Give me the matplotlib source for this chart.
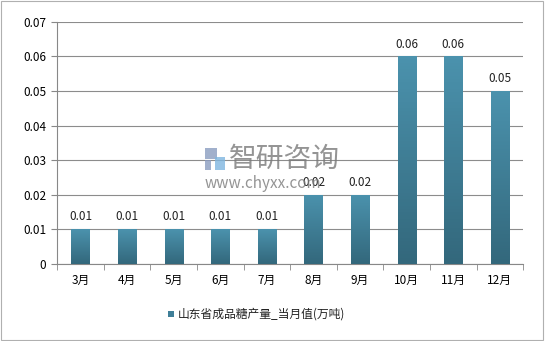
import matplotlib
matplotlib.use("Agg")
import matplotlib.pyplot as plt
import numpy as np
from matplotlib.patches import Rectangle

plt.rcParams['font.family'] = ['Noto Sans CJK SC', 'DejaVu Sans']

months = ['3月', '4月', '5月', '6月', '7月', '8月', '9月', '10月', '11月', '12月']
values = [0.01, 0.01, 0.01, 0.01, 0.01, 0.02, 0.02, 0.06, 0.06, 0.05]
labels = ['0.01', '0.01', '0.01', '0.01', '0.01', '0.02', '0.02', '0.06', '0.06', '0.05']
yticks = [0, 0.01, 0.02, 0.03, 0.04, 0.05, 0.06, 0.07]
ytick_labels = ['0', '0.01', '0.02', '0.03', '0.04', '0.05', '0.06', '0.07']
series_name = '山东省成品糖产量_当月值(万吨)'

fig = plt.figure(figsize=(5.45, 3.41), dpi=100)
ax = fig.add_axes([0.105, 0.226, 0.855, 0.71])

x = np.arange(len(months))
bar_w = 0.39
bars = ax.bar(x, values, width=bar_w, color='#3f7f98', zorder=2)

# vertical gradient in each bar
grad = np.linspace(0, 1, 64).reshape(-1, 1)
cmap = matplotlib.colors.LinearSegmentedColormap.from_list('g', ['#33687c', '#4b92ad'])
for b in bars:
    x0, y0 = b.get_x(), b.get_y()
    w, h = b.get_width(), b.get_height()
    im = ax.imshow(grad, extent=[x0, x0 + w, y0, y0 + h], origin='lower',
                   aspect='auto', cmap=cmap, zorder=3)
    im.set_clip_path(b)

for xi, v, lab in zip(x, values, labels):
    ax.text(xi, v + 0.0017, lab, ha='center', va='bottom', fontsize=8.5,
            color='#222222', zorder=4)

ax.set_xlim(-0.5, len(months) - 0.5)
ax.set_ylim(0, 0.07)
ax.set_yticks(yticks)
ax.set_yticklabels(ytick_labels, fontsize=8.5)
ax.set_xticks(x)
ax.set_xticklabels(months, fontsize=8.5)
ax.set_xticks(np.arange(-0.5, len(months), 1), minor=True)
ax.tick_params(axis='x', which='major', length=0, pad=7)
ax.tick_params(axis='x', which='minor', length=4, color='#888888')
ax.tick_params(axis='y', length=4, color='#888888', pad=4)
ax.yaxis.grid(True, color='#8c8c8c', linewidth=0.8, zorder=0)
ax.set_axisbelow(True)
for s in ['top', 'right']:
    ax.spines[s].set_visible(False)
ax.spines['left'].set_color('#888888')
ax.spines['bottom'].set_color('#888888')

# legend
fig.patches.append(Rectangle((0.308, 0.071), 0.011, 0.018, transform=fig.transFigure,
                             facecolor='#3f7f98', edgecolor='none'))
fig.text(0.326, 0.08, series_name, fontsize=8.5, va='center', ha='left', color='#222222')

# watermark
fig.text(0.42, 0.534, '智研咨询', fontsize=20, color='#7a7a7a', alpha=0.8,
         ha='left', va='center', zorder=10)
fig.text(0.376, 0.462, 'www.chyxx.com', fontsize=11, color='#7a7a7a', alpha=0.8,
         ha='left', va='center', zorder=10)
fig.patches.append(Rectangle((0.376, 0.535), 0.022, 0.03, transform=fig.transFigure,
                             facecolor='#8a9cc0', edgecolor='none', alpha=0.8, zorder=10))
fig.patches.append(Rectangle((0.376, 0.501), 0.012, 0.03, transform=fig.transFigure,
                             facecolor='#8a9cc0', edgecolor='none', alpha=0.8, zorder=10))
fig.patches.append(Rectangle((0.395, 0.501), 0.018, 0.04, transform=fig.transFigure,
                             facecolor='#7fb6e0', edgecolor='none', alpha=0.8, zorder=10))

# outer border
fig.patches.append(Rectangle((0.002, 0.003), 0.995, 0.993, transform=fig.transFigure,
                             fill=False, edgecolor='#b0b0b0', linewidth=0.8))

fig.savefig('out.png', dpi=100)
